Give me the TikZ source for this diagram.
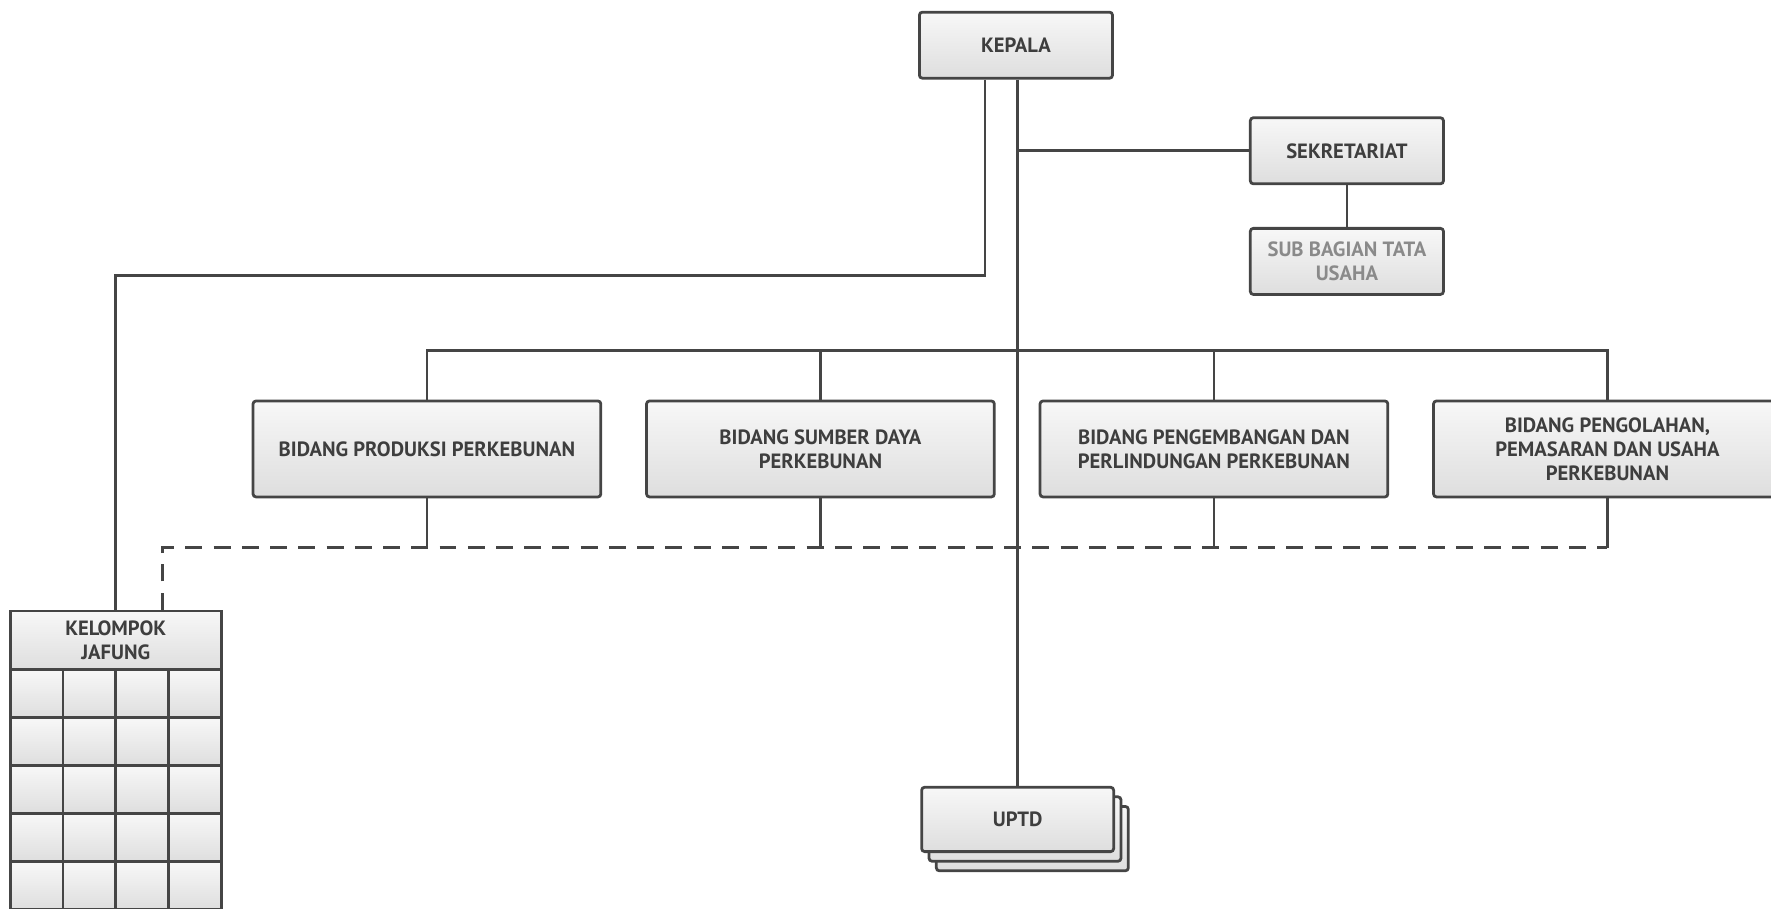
\documentclass[tikz,border=0pt]{standalone}
\usepackage{fontspec}
\setmainfont{PT Sans}
\usepackage{xcolor}
\usetikzlibrary{shapes,arrows,positioning}
\definecolor{linegray}{HTML}{454545}
\definecolor{textgray}{HTML}{3E3E3E}
\definecolor{subgray}{HTML}{8A8A8A}
\tikzstyle{box} = [draw=linegray, line width=1.4pt, rounded corners=1.5pt, top color=white!97!black, bottom color=black!13, text=textgray, font=\fontsize{10.4}{12}\selectfont\bfseries, align=center, inner sep=0pt]
\tikzstyle{unit} = [box, minimum width=3.42cm, minimum height=1.17cm]
\tikzstyle{bidang} = [box, minimum width=6.16cm, minimum height=1.70cm]
\tikzstyle{cell} = [box, minimum width=0.935cm, minimum height=0.85cm, rounded corners=0pt]
\tikzstyle{link} = [draw=linegray, line width=1.4pt]
\tikzstyle{dashlink} = [link, dash pattern=on 0.3cm off 0.2cm]

\begin{document}
\begin{tikzpicture}[x=0.02cm, y=-0.02cm]
    \useasboundingbox (0,0) rectangle (1568,804);
    \node[unit] (kepala) at (899.5,40) {KEPALA};
    \node[unit] (sek) at (1192.5,133.5) {SEKRETARIAT};
    \node[unit, below=0.74cm of sek, text=subgray] (sub) {SUB BAGIAN TATA\\USAHA};

    \node[bidang] (b1) at (378,397.5) {BIDANG PRODUKSI PERKEBUNAN};
    \node[bidang, right=0.76cm of b1] (b2) {BIDANG SUMBER DAYA\\PERKEBUNAN};
    \node[bidang, right=0.76cm of b2] (b3) {BIDANG PENGEMBANGAN DAN\\PERLINDUNGAN PERKEBUNAN};
    \node[bidang, right=0.76cm of b3] (b4) {BIDANG PENGOLAHAN,\\PEMASARAN DAN USAHA\\PERKEBUNAN};

    % UPTD stack
    \node[unit, minimum width=3.4cm, minimum height=1.14cm] (uptd3) at (914,742.5) {};
    \node[unit, minimum width=3.4cm, minimum height=1.14cm] (uptd2) at (907.5,734) {};
    \node[unit, minimum width=3.4cm, minimum height=1.14cm] (uptd) at (901,725.5) {UPTD};

    % kelompok jafung
    \node[box, minimum width=3.74cm, minimum height=1.04cm, rounded corners=0pt] (jaf) at (102.5,567) {KELOMPOK\\JAFUNG};
    \foreach \r in {1,...,5}
        \foreach \c in {1,...,4}
            \node[cell] (cell-\r-\c) at ({9+46.75*(\c-0.5)},{593+42.5*(\r-0.5)}) {};

    \coordinate (bus) at (902,310);
    \coordinate (dash) at (144,485);

    \draw[link] (kepala.south -| uptd.north) -- (uptd.north);
    \draw[link] (sek.west -| uptd.north) -- (sek.west);
    \draw[link] (sek) -- (sub);
    \draw[link] (kepala.south -| 872,0) -- (872,244) -| (jaf.north);

    \draw[link] (b1.north) |- (b4.north |- bus) -- (b4.north);
    \draw[link] (b2.north) -- (b2.north |- bus);
    \draw[link] (b3.north) -- (b3.north |- bus);
    \foreach \b in {b1,b2,b3,b4}
        \draw[link] (\b.south) -- (\b.south |- dash);
    \draw[dashlink] (jaf.north -| dash) -- (dash) -- (b4.south |- dash);
\end{tikzpicture}
\end{document}
